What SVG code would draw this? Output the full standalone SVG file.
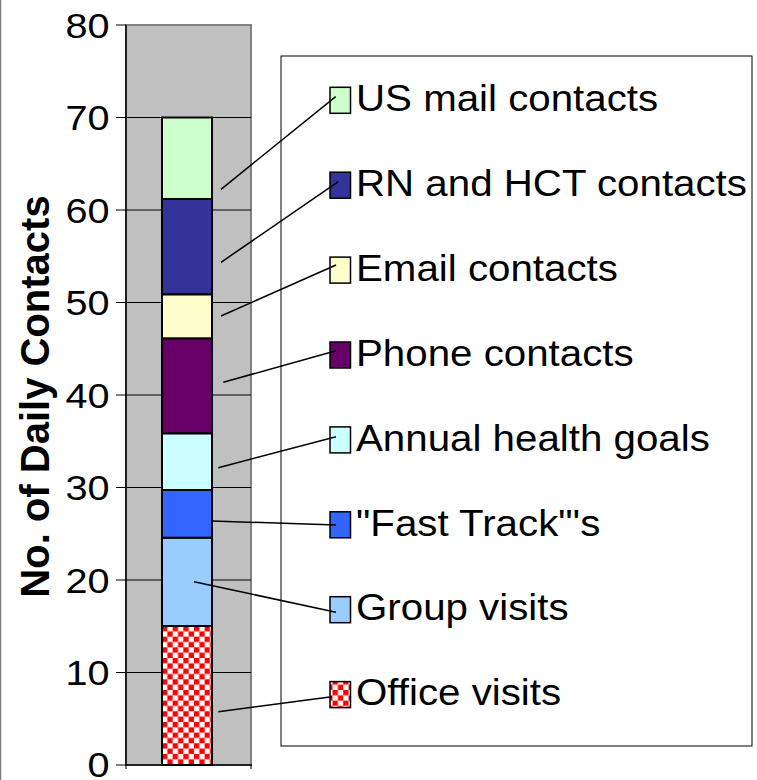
<svg xmlns="http://www.w3.org/2000/svg" width="757" height="780" viewBox="0 0 757 780">
  <defs>
    <!-- red/white checkerboard used for "Office visits" -->
    <pattern id="checker" patternUnits="userSpaceOnUse" x="162" y="626" width="10.66" height="10.66">
      <rect width="10.66" height="10.66" fill="#FFFFFF"/>
      <rect x="0" y="0" width="5.33" height="5.33" fill="#FF0000"/>
      <rect x="5.33" y="5.33" width="5.33" height="5.33" fill="#FF0000"/>
    </pattern>
  </defs>
  <style>
    .seg { stroke: #000; stroke-width: 2; }
    .key { stroke: #000; stroke-width: 1.5; }
    .grid { stroke: #000; stroke-width: 1; }
    .tick { font-family: "Liberation Sans", Arial, sans-serif; font-size: 36px; fill: #000; text-anchor: end; }
    .lbl { font-family: "Liberation Sans", Arial, sans-serif; font-size: 36.3px; fill: #000; }
    .title { font-family: "Liberation Sans", Arial, sans-serif; font-size: 40px; font-weight: bold; fill: #000; text-anchor: middle; }
    .lead { stroke: #000; stroke-width: 1.5; fill: none; }
  </style>

  <rect width="757" height="780" fill="#FFFFFF"/>
  <line x1="0.5" y1="0" x2="0.5" y2="780" stroke="#808080" stroke-width="1.5"/>

  <!-- plot area -->
  <g id="plot-area">
    <rect x="126" y="25" width="125" height="740" fill="#C0C0C0" stroke="#808080" stroke-width="2"/>
    <line class="grid" x1="126" y1="117.5" x2="251" y2="117.5"/>
    <line class="grid" x1="126" y1="210" x2="251" y2="210"/>
    <line class="grid" x1="126" y1="302.5" x2="251" y2="302.5"/>
    <line class="grid" x1="126" y1="395" x2="251" y2="395"/>
    <line class="grid" x1="126" y1="487.5" x2="251" y2="487.5"/>
    <line class="grid" x1="126" y1="580" x2="251" y2="580"/>
    <line class="grid" x1="126" y1="672.5" x2="251" y2="672.5"/>
  </g>

  <!-- value axis -->
  <g id="y-axis">
    <line x1="126" y1="25" x2="126" y2="765" stroke="#000" stroke-width="1.5"/>
    <line x1="126" y1="765" x2="252" y2="765" stroke="#000" stroke-width="1.5"/>
    <g stroke="#000" stroke-width="1">
      <line x1="116" y1="25" x2="126" y2="25"/>
      <line x1="116" y1="117.5" x2="126" y2="117.5"/>
      <line x1="116" y1="210" x2="126" y2="210"/>
      <line x1="116" y1="302.5" x2="126" y2="302.5"/>
      <line x1="116" y1="395" x2="126" y2="395"/>
      <line x1="116" y1="487.5" x2="126" y2="487.5"/>
      <line x1="116" y1="580" x2="126" y2="580"/>
      <line x1="116" y1="672.5" x2="126" y2="672.5"/>
      <line x1="116" y1="765" x2="126" y2="765"/>
      <line x1="126" y1="765" x2="126" y2="769"/>
      <line x1="251" y1="765" x2="251" y2="769"/>
    </g>
    <text class="tick" transform="translate(109.5 37.5) scale(1.1 1)">80</text>
    <text class="tick" transform="translate(109.5 130) scale(1.1 1)">70</text>
    <text class="tick" transform="translate(109.5 222.5) scale(1.1 1)">60</text>
    <text class="tick" transform="translate(109.5 315) scale(1.1 1)">50</text>
    <text class="tick" transform="translate(109.5 407.5) scale(1.1 1)">40</text>
    <text class="tick" transform="translate(109.5 500) scale(1.1 1)">30</text>
    <text class="tick" transform="translate(109.5 592.5) scale(1.1 1)">20</text>
    <text class="tick" transform="translate(109.5 685) scale(1.1 1)">10</text>
    <text class="tick" transform="translate(109.5 777) scale(1.1 1)">0</text>
    <text class="title" transform="translate(49 396.5) rotate(-90)">No. of Daily Contacts</text>
  </g>

  <!-- legend frame -->
  <rect id="legend" x="281" y="56" width="471" height="690" fill="#FFFFFF" stroke="#000" stroke-width="1"/>

  <!-- stacked bar segments with their legend keys -->
  <g id="office-visits">
    <rect class="seg" x="162" y="626" width="50" height="139" fill="url(#checker)"/>
    <rect class="key" x="330" y="681.6" width="20.5" height="26" fill="url(#checker)"/>
    <text class="lbl" transform="translate(356 705.3) scale(1.11 1)">Office visits</text>
  </g>
  <g id="group-visits">
    <rect class="seg" x="162" y="537.7" width="50" height="88.3" fill="#99CCFF"/>
    <rect class="key" x="330" y="596.7" width="20.5" height="26" fill="#99CCFF"/>
    <text class="lbl" transform="translate(356 620.4) scale(1.11 1)">Group visits</text>
  </g>
  <g id="fast-track">
    <rect class="seg" x="162" y="490" width="50" height="47.7" fill="#3366FF"/>
    <rect class="key" x="330" y="511.8" width="20.5" height="26" fill="#3366FF"/>
    <text class="lbl" transform="translate(356 535.5) scale(1.11 1)">"Fast Track"'s</text>
  </g>
  <g id="annual-health-goals">
    <rect class="seg" x="162" y="433.3" width="50" height="56.7" fill="#CCFFFF"/>
    <rect class="key" x="330" y="426.9" width="20.5" height="26" fill="#CCFFFF"/>
    <text class="lbl" transform="translate(356 450.6) scale(1.11 1)">Annual health goals</text>
  </g>
  <g id="phone-contacts">
    <rect class="seg" x="162" y="338.3" width="50" height="95" fill="#660066"/>
    <rect class="key" x="330" y="342" width="20.5" height="26" fill="#660066"/>
    <text class="lbl" transform="translate(356 365.7) scale(1.11 1)">Phone contacts</text>
  </g>
  <g id="email-contacts">
    <rect class="seg" x="162" y="294.3" width="50" height="44" fill="#FFFFCC"/>
    <rect class="key" x="330" y="257.1" width="20.5" height="26" fill="#FFFFCC"/>
    <text class="lbl" transform="translate(356 280.8) scale(1.11 1)">Email contacts</text>
  </g>
  <g id="rn-hct-contacts">
    <rect class="seg" x="162" y="199" width="50" height="95.3" fill="#333399"/>
    <rect class="key" x="330" y="172.2" width="20.5" height="26" fill="#333399"/>
    <text class="lbl" transform="translate(356 195.9) scale(1.11 1)">RN and HCT contacts</text>
  </g>
  <g id="us-mail-contacts">
    <rect class="seg" x="162" y="117.5" width="50" height="81.5" fill="#CCFFCC"/>
    <rect class="key" x="330" y="87.3" width="20.5" height="26" fill="#CCFFCC"/>
    <text class="lbl" transform="translate(356 111) scale(1.11 1)">US mail contacts</text>
  </g>

  <!-- leader lines from bar segments to legend keys -->
  <g id="connectors">
    <line class="lead" x1="221" y1="189.3" x2="335.7" y2="96.7"/>
    <line class="lead" x1="221" y1="262.3" x2="338.3" y2="181.7"/>
    <line class="lead" x1="221" y1="316" x2="336" y2="265"/>
    <line class="lead" x1="223.3" y1="382.3" x2="336" y2="350.7"/>
    <line class="lead" x1="218.3" y1="467.7" x2="336" y2="436.7"/>
    <line class="lead" x1="212" y1="521" x2="336" y2="525"/>
    <line class="lead" x1="194" y1="581.7" x2="336" y2="612.3"/>
    <line class="lead" x1="218.3" y1="711.7" x2="331.7" y2="696.7"/>
  </g>
</svg>
